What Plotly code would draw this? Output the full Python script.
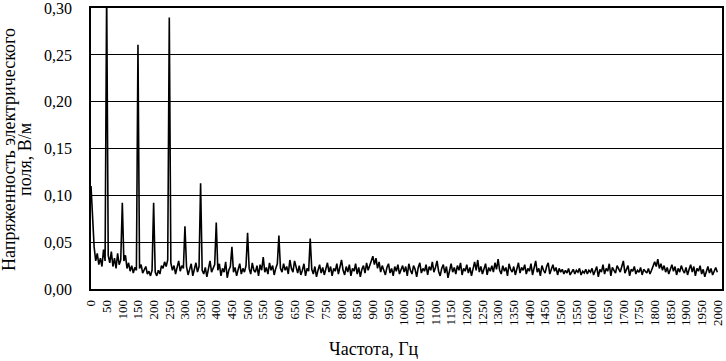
import plotly.graph_objects as go

# Frequency sampling grid (Hz)
freq_start_hz = 0
freq_stop_hz = 2000
freq_step_hz = 5

# Electric field strength, mV/m (one row = 100 Hz, 5 Hz steps)
field_mv_per_m = [
    110, 75, 45, 30, 38, 26, 33, 24, 42, 30, 320, 36, 28, 40, 24, 33, 22, 38, 26, 31,
    92, 30, 36, 22, 28, 19, 25, 17, 23, 20, 261, 22, 26, 17, 21, 24, 16, 19, 14, 20,
    92, 18, 14, 20, 16, 25, 22, 29, 24, 31, 290, 28, 20, 25, 16, 22, 30, 19, 25, 22,
    67, 24, 15, 21, 27, 14, 22, 28, 18, 24, 113, 20, 16, 23, 13, 24, 30, 18, 22, 26,
    71, 20, 27, 14, 22, 18, 29, 12, 20, 24, 45, 18, 23, 14, 21, 27, 16, 22, 18, 25,
    60, 22, 16, 28, 20, 18, 25, 14, 26, 20, 34, 18, 23, 16, 28, 20, 25, 15, 22, 27,
    57, 22, 18, 27, 20, 24, 16, 31, 22, 18, 30, 22, 17, 25, 15, 20, 27, 14, 22, 19,
    54, 21, 16, 24, 13, 20, 26, 17, 23, 15, 21, 28, 18, 24, 14, 22, 19, 27, 16, 23,
    31, 20, 15, 24, 18, 26, 14, 22, 19, 27, 16, 23, 13, 21, 25, 17, 28, 20, 24, 30,
    35, 26, 33, 22, 29, 18, 25, 20, 15, 23, 27, 17, 22, 14, 24, 19, 26, 16, 21, 25,
    18, 24, 14, 27, 20, 16, 25, 21, 13, 23, 28, 17, 22, 19, 26, 15, 24, 20, 29, 18,
    23, 30, 19, 14, 22, 26, 17, 24, 12, 21, 27, 18, 23, 16, 25, 20, 28, 15, 22, 19,
    26, 17, 23, 14, 21, 29, 20, 31, 18, 24, 16, 22, 27, 15, 23, 19, 25, 18, 28, 21,
    32, 20, 16, 25, 19, 23, 14, 27, 21, 18, 24, 15, 22, 28, 17, 23, 20, 26, 16, 22,
    19, 27, 15, 23, 30, 18, 22, 14, 25, 20, 17, 24, 28, 16, 21, 26, 19, 23, 15, 22,
    18, 21, 16, 20, 17, 22, 15, 19, 21, 16, 20, 18, 22, 15, 19, 17, 21, 16, 20, 18,
    22, 15, 19, 24, 13, 21, 18, 26, 16, 22, 19, 27, 14, 23, 20, 17, 25, 21, 18, 24,
    30, 17, 22, 25, 14, 21, 19, 24, 16, 20, 18, 23, 15, 21, 19, 17, 22, 16, 20, 26,
    29, 24, 32, 22, 27, 20, 25, 18, 23, 16, 21, 26, 19, 24, 15, 22, 18, 25, 20, 17,
    23, 15, 21, 26, 18, 24, 14, 22, 19, 25, 16, 21, 13, 20, 24, 17, 22, 15, 19, 23,
    18,
]

x_tick_values = list(range(0, 2001, 50))
x_tick_labels = [str(v) for v in x_tick_values]
y_tick_values = [0.00, 0.05, 0.10, 0.15, 0.20, 0.25, 0.30]
y_tick_labels = ["0,00", "0,05", "0,10", "0,15", "0,20", "0,25", "0,30"]

x_title = "Частота, Гц"
y_title_line1 = "Напряженность электрического"
y_title_line2 = "поля, В/м"

freqs = list(range(freq_start_hz, freq_stop_hz + 1, freq_step_hz))
field_v_per_m = [v / 1000 for v in field_mv_per_m]

FONT = "Liberation Serif"

# plot area in pixels
L, R, T, B = 91, 722, 8, 289
W, H = 726, 361
PW, PH = R - L, B - T

fig = go.Figure()
fig.add_trace(go.Scatter(
    x=freqs, y=field_v_per_m, mode="lines",
    line=dict(color="black", width=1.6),
    showlegend=False, hoverinfo="skip",
))

fig.update_layout(
    width=W, height=H,
    margin=dict(l=L, r=W - R, t=T, b=H - B, autoexpand=False),
    paper_bgcolor="white", plot_bgcolor="white",
    font=dict(family=FONT, color="black"),
    showlegend=False,
)

fig.update_xaxes(
    range=[0, 2015], automargin=False,
    tickmode="array", tickvals=x_tick_values, ticktext=x_tick_labels,
    tickangle=-90, tickfont=dict(size=13, family=FONT, color="black"),
    showgrid=False, zeroline=False,
    showline=True, linecolor="black", linewidth=1.5, mirror=True,
    ticks="", ticklabelstandoff=4, ticklabeloverflow="allow",
)
fig.update_yaxes(
    range=[0, 0.3002], automargin=False,
    tickmode="array", tickvals=y_tick_values, ticktext=y_tick_labels,
    tickfont=dict(size=16, family=FONT, color="black"),
    showgrid=True, gridcolor="black", gridwidth=1,
    zeroline=False,
    showline=True, linecolor="black", linewidth=1.5, mirror=True,
    ticks="", ticklabelstandoff=14, ticklabeloverflow="allow",
)

def px_x(px):
    return (px - L) / PW

def px_y(py):
    return (B - py) / PH

fig.add_annotation(
    text=x_title, xref="paper", yref="paper",
    x=px_x(374), y=px_y(349),
    showarrow=False, font=dict(size=18, family=FONT, color="black"),
    xanchor="center", yanchor="middle",
)
fig.add_annotation(
    text=y_title_line1, xref="paper", yref="paper",
    x=px_x(9), y=px_y(150),
    showarrow=False, textangle=-90,
    font=dict(size=18, family=FONT, color="black"),
    xanchor="center", yanchor="middle",
)
fig.add_annotation(
    text=y_title_line2, xref="paper", yref="paper",
    x=px_x(25), y=px_y(160),
    showarrow=False, textangle=-90,
    font=dict(size=18, family=FONT, color="black"),
    xanchor="center", yanchor="middle",
)

fig.write_html(
    "out.html",
    config={"displayModeBar": False},
    post_script="document.body.style.margin='0px';document.body.style.overflow='hidden';",
)
